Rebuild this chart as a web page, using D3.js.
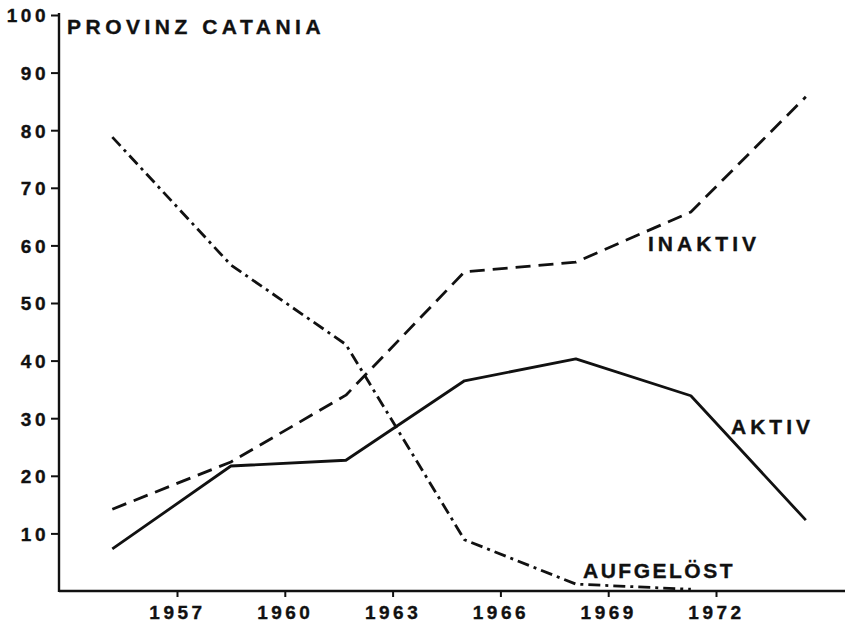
<!DOCTYPE html>
<html>
<head>
<meta charset="utf-8">
<script src="https://cdn.jsdelivr.net/npm/d3@7"></script>
<style>
  html, body { margin: 0; padding: 0; background: #fff; }
  svg { display: block; }
  text { font-family: "Liberation Sans", Arial, Helvetica, sans-serif; font-weight: bold; fill: #111; stroke: #111; stroke-width: 0.35px; }
</style>
</head>
<body>
<svg id="chart" width="845" height="624"></svg>
<script>
// ---- data ----
const years = [1955.2, 1958.5, 1961.7, 1965.0, 1968.1, 1971.3, 1974.5];
const aktiv = [7.3, 21.7, 22.7, 36.5, 40.3, 33.9, 12.3];
const inaktiv = [14.2, 22.4, 34.0, 55.4, 57.1, 65.8, 85.8];
const aufgeloest = [78.8, 56.6, 42.8, 8.9, 1.2, 0.3, null];
const xTickYears = [1957, 1960, 1963, 1966, 1969, 1972];
const yTickValues = [10, 20, 30, 40, 50, 60, 70, 80, 90, 100];
const title = "PROVINZ CATANIA";
const seriesNames = ["AKTIV", "INAKTIV", "AUFGELÖST"];

// ---- layout ----
const svg = d3.select("#chart");
svg.append("rect").attr("width", 845).attr("height", 624).attr("fill", "#fff");

const x = d3.scaleLinear().domain([1957, 1972]).range([177, 716]);
const y = d3.scaleLinear().domain([0, 100]).range([591, 15]);
const axisLeftX = 59;
const axisRightX = 845;

const ink = "#111";

// Axes
const yAxis = svg.append("g").attr("transform", `translate(${axisLeftX},0)`)
  .call(d3.axisLeft(y).tickValues(yTickValues).tickSize(8).tickPadding(2).tickFormat(d3.format("d")));
yAxis.select(".domain").remove();
yAxis.selectAll(".tick line").attr("stroke", ink).attr("stroke-width", 2);
yAxis.selectAll(".tick text").attr("font-size", 19).attr("letter-spacing", "3.5px")
  .attr("fill", ink).attr("dy", "0.36em");

svg.append("line").attr("x1", axisLeftX).attr("x2", axisLeftX)
  .attr("y1", y(100) - 2).attr("y2", y(0) + 1)
  .attr("stroke", ink).attr("stroke-width", 2.4);

const xAxis = svg.append("g").attr("transform", `translate(0,${y(0)})`)
  .call(d3.axisBottom(x).tickValues(xTickYears).tickSize(6).tickPadding(6).tickFormat(d3.format("d")));
xAxis.select(".domain").remove();
xAxis.selectAll(".tick line").attr("stroke", ink).attr("stroke-width", 2);
xAxis.selectAll(".tick text").attr("font-size", 19).attr("letter-spacing", "3.5px")
  .attr("fill", ink).attr("dy", "0.85em");

svg.append("line").attr("x1", axisLeftX).attr("x2", axisRightX)
  .attr("y1", y(0)).attr("y2", y(0))
  .attr("stroke", ink).attr("stroke-width", 2.4);

// Lines
const line = d3.line()
  .defined(d => d[1] !== null)
  .x(d => x(d[0])).y(d => y(d[1]));

function draw(values, dash) {
  svg.append("path")
    .datum(years.map((yr, i) => [yr, values[i]]))
    .attr("d", line)
    .attr("fill", "none")
    .attr("stroke", ink)
    .attr("stroke-width", 2.8)
    .attr("stroke-linejoin", "round")
    .attr("stroke-dasharray", dash);
}
draw(aktiv, null);
draw(inaktiv, "15 8");
draw(aufgeloest, "12 5 3 5");

// Title and series labels
svg.append("text").attr("x", 67).attr("y", 34)
  .attr("font-size", 21).attr("letter-spacing", "4.5px").text(title);

svg.append("text").attr("x", 731).attr("y", 434)
  .attr("font-size", 21).attr("letter-spacing", "4px").text(seriesNames[0]);
svg.append("text").attr("x", 648).attr("y", 251)
  .attr("font-size", 21).attr("letter-spacing", "4px").text(seriesNames[1]);
svg.append("text").attr("x", 583).attr("y", 578)
  .attr("font-size", 21).attr("letter-spacing", "2.5px").text(seriesNames[2]);
</script>
</body>
</html>
